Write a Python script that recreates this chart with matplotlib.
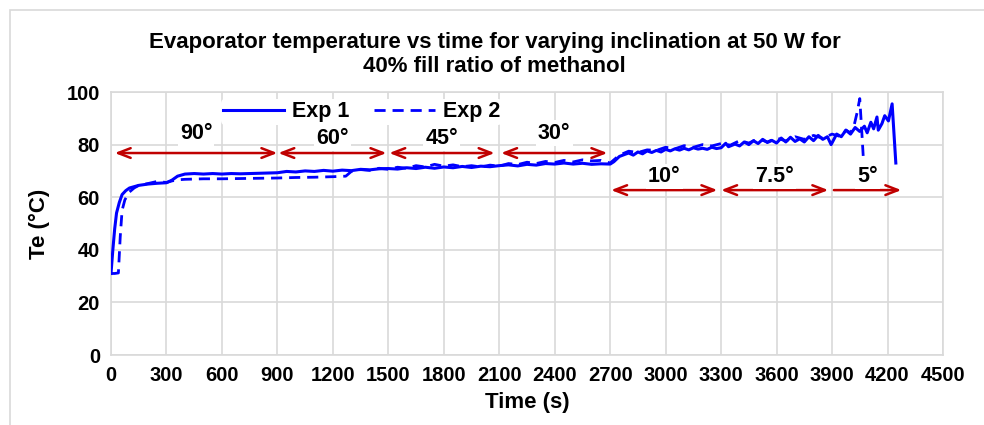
import matplotlib.pyplot as plt
from matplotlib.patches import Rectangle

plt.rcParams['font.family'] = ['Liberation Sans', 'DejaVu Sans']
plt.rcParams['font.weight'] = 'bold'

# Exp 1 (solid)
t1 = [0, 10, 20, 30, 45, 60, 80, 100, 150, 200, 250, 300, 330, 360, 400, 450, 500, 550, 600,
      650, 700, 750, 800, 850, 900, 950, 1000, 1050, 1100, 1150, 1200, 1250, 1300, 1350, 1400,
      1450, 1500, 1550, 1600, 1650, 1700, 1750, 1800, 1850, 1900, 1950, 2000, 2050, 2100, 2150,
      2200, 2250, 2300, 2350, 2400, 2450, 2500, 2550, 2600, 2650, 2700, 2720, 2750, 2780, 2800,
      2825, 2850, 2875, 2900, 2925, 2950, 2975, 3000, 3025, 3050, 3075, 3100, 3125, 3150, 3175,
      3200, 3225, 3250, 3275, 3300, 3325, 3340, 3375, 3400, 3425, 3450, 3475, 3500, 3525, 3550,
      3575, 3600, 3625, 3650, 3675, 3700, 3725, 3750, 3775, 3800, 3825, 3850, 3875, 3895, 3925,
      3950, 3975, 4000, 4025, 4050, 4075, 4090, 4110, 4125, 4143, 4150, 4170, 4185, 4205, 4225,
      4245]
te1 = [31, 40, 48, 54, 58, 61, 62.5, 63.5, 64.5, 65, 65.3, 65.5, 66.5, 68, 68.8, 69, 68.8, 69,
       68.8, 69, 68.9, 69, 69.1, 69.2, 69.3, 69.8, 69.6, 70, 69.8, 70.2, 69.9, 70.3, 70.1, 70.6,
       70.4, 70.8, 70.9, 70.7, 71.2, 70.9, 71.4, 71.0, 71.5, 71.2, 71.7, 71.3, 71.8, 71.6, 72.0,
       72.3, 71.9, 72.5, 72.2, 72.8, 72.6, 73.0, 72.6, 72.9, 72.5, 72.7, 72.6, 73.5, 75.5, 76.3,
       76.8, 76.0, 77.2, 76.5, 77.6, 77.0, 77.8, 77.2, 78.2, 77.6, 78.4, 77.9, 78.6, 78.0, 78.8,
       78.3, 78.6, 78.2, 79.0, 78.5, 78.8, 80.5, 79.2, 80.2, 79.5, 81.0, 80.0, 81.5, 80.4, 82.0,
       80.8, 81.6, 80.6, 82.5, 81.0, 82.8, 81.2, 82.2, 81.0, 83.0, 81.5, 83.5, 82.0, 83.0, 80.0,
       84.0, 83.0, 85.5, 84.0, 86.5, 85.0, 87.0, 84.5, 88.5, 86.0, 90.5, 85.5, 88.0, 91.0, 89.0,
       95.5, 73.0]

# Exp 2 (dashed)
t2 = [0, 20, 40, 50, 60, 75, 100, 125, 150, 200, 250, 300, 330, 360, 400, 500, 600, 700, 800,
      900, 1000, 1100, 1200, 1270, 1300, 1350, 1400, 1450, 1500, 1550, 1600, 1650, 1700, 1750,
      1800, 1850, 1900, 1950, 2000, 2050, 2100, 2150, 2200, 2250, 2300, 2350, 2400, 2450, 2500,
      2550, 2600, 2650, 2700, 2750, 2800, 2850, 2900, 2950, 3000, 3050, 3100, 3150, 3200, 3250,
      3300, 3350, 3400, 3450, 3500, 3550, 3600, 3650, 3700, 3750, 3800, 3850, 3900, 3950, 3975,
      4000, 4020, 4035, 4050, 4060, 4070]
te2 = [31, 31, 31.2, 45, 55, 59, 62, 63.5, 64.5, 65.2, 66, 65.6, 66.2, 66.6, 66.8, 67, 67, 67.1,
       67.2, 67.3, 67.5, 67.6, 67.8, 68.0, 69.8, 70.5, 70.2, 71.0, 70.6, 71.4, 71.0, 72.0, 71.5,
       72.5, 71.8, 72.3, 71.6, 72.0, 71.5, 72.2, 71.8, 72.8, 72.4, 73.3, 72.8, 73.6, 73.2, 74.0,
       73.4, 74.2, 73.8, 74.0, 73.0, 76.0, 77.5, 77.0, 78.0, 77.8, 79.0, 78.4, 79.6, 79.0, 80.0,
       79.5, 80.4, 79.8, 81.5, 80.6, 82.2, 81.0, 82.5, 81.4, 83.0, 82.0, 83.5, 82.4, 84.0, 83.0,
       85.5, 84.5, 87.5, 92.0, 97.5, 86.0, 74.0]

# inclination segments
angles = ['90°', '60°', '45°', '30°', '10°', '7.5°', '5°']
seg_start = [20, 905, 1505, 2110, 2705, 3300, 3910]
seg_end = [900, 1490, 2075, 2685, 3280, 3880, 4275]
arrow_y = [76.8, 76.8, 76.8, 76.8, 62.7, 62.7, 62.7]
label_y = [84.4, 82.5, 82.5, 84.4, 68.0, 68.0, 68.0]

blue = '#0000FF'
red = '#C00000'
grid = '#D9D9D9'

fig = plt.figure(figsize=(9.84, 4.25), dpi=100)
ax = fig.add_axes([0.1128, 0.1647, 0.8455, 0.6188])

ax.plot(t1, te1, color=blue, lw=2.2, label='Exp 1', zorder=3)
ax.plot(t2, te2, color=blue, lw=2.0, dashes=(4, 2.5), label='Exp 2', zorder=3)

for i, a in enumerate(angles):
    style = '->' if a == '5°' else '<->'
    ax.annotate('', xy=(seg_end[i], arrow_y[i]), xytext=(seg_start[i], arrow_y[i]),
                arrowprops=dict(arrowstyle=style + ',head_length=0.9,head_width=0.35',
                                color=red, lw=1.8, shrinkA=0, shrinkB=0), zorder=4)
    ax.text((seg_start[i] + seg_end[i]) / 2, label_y[i], a, ha='center', va='center',
            fontsize=15.5, fontweight='bold', zorder=5,
            bbox=dict(facecolor='white', edgecolor='none', pad=1.5))

ax.set_xlim(0, 4500)
ax.set_ylim(0, 100)
ax.set_xticks(range(0, 4501, 300))
ax.set_yticks(range(0, 101, 20))
ax.grid(True, color=grid, lw=1.2)
ax.set_axisbelow(True)
for s in ax.spines.values():
    s.set_color(grid)
    s.set_linewidth(1.2)
ax.tick_params(length=0, labelsize=14.5, pad=8)
for lab in ax.get_xticklabels() + ax.get_yticklabels():
    lab.set_fontweight('bold')

ax.set_xlabel('Time (s)', fontsize=16, fontweight='bold', labelpad=5)
ax.set_ylabel('Te (°C)', fontsize=16, fontweight='bold', labelpad=12)

leg = ax.legend(loc='center', bbox_to_anchor=(0.301, 0.924), ncol=2, frameon=True,
                fontsize=15.5, handlelength=2.85, columnspacing=1.15, handletextpad=0.35,
                borderpad=0.1)
leg.get_frame().set_facecolor('white')
leg.get_frame().set_edgecolor('none')
leg.get_frame().set_alpha(1)
for txt in leg.get_texts():
    txt.set_fontweight('bold')

fig.text(0.5025, 0.872, 'Evaporator temperature vs time for varying inclination at 50 W for\n'
         '40% fill ratio of methanol', ha='center', va='center', fontsize=16,
         fontweight='bold', linespacing=1.2)

fig.patches.append(Rectangle((10 / 984, -0.1), 1.1, 1.1 - 10 / 425,
                             transform=fig.transFigure, fill=False, edgecolor=grid, lw=1.2))

fig.savefig('out.png', dpi=100)
